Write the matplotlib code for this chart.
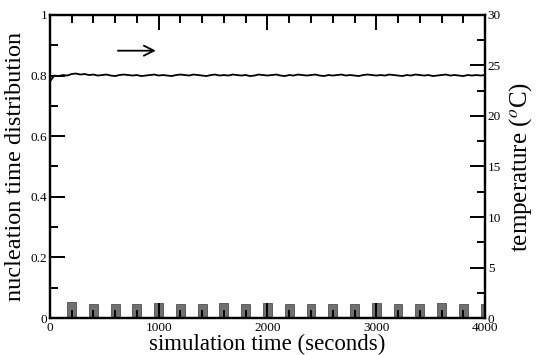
import numpy as np
import matplotlib
matplotlib.use('Agg')
import matplotlib.pyplot as plt
from matplotlib.ticker import MultipleLocator

plt.rcParams['font.family'] = 'Liberation Serif'
plt.rcParams['mathtext.fontset'] = 'stix'

# nucleation time histogram (left axis)
bin_centers = [200, 400, 600, 800, 1000, 1200, 1400, 1600, 1800, 2000,
               2200, 2400, 2600, 2800, 3000, 3200, 3400, 3600, 3800, 4000]
bin_heights = [0.052, 0.048, 0.048, 0.048, 0.049, 0.048, 0.048, 0.050, 0.048, 0.051,
               0.047, 0.048, 0.048, 0.048, 0.049, 0.048, 0.048, 0.050, 0.048, 0.048]

# temperature trace (right axis), sampled every 40 s
sample_times = np.arange(0, 4001, 40)
temperature = [23.4, 24.0, 23.95, 24.05, 24.0, 24.15, 24.2, 24.1, 24.15, 24.05,
               24.1, 24.0, 24.05, 24.1, 24.0, 23.95, 24.05, 24.1, 24.05, 24.0,
               24.05, 23.95, 24.0, 24.05, 24.1, 24.0, 24.05, 24.0, 23.95, 24.05,
               24.1, 24.05, 24.0, 24.1, 24.05, 24.0, 23.95, 24.05, 24.1, 24.0,
               24.05, 24.0, 24.1, 24.05, 24.0, 24.05, 23.95, 24.0, 24.1, 24.05,
               24.0, 24.05, 24.1, 24.0, 23.95, 24.05, 24.0, 24.1, 24.05, 24.0,
               24.05, 24.1, 24.0, 23.95, 24.05, 24.0, 24.05, 24.1, 24.0, 24.05,
               24.0, 23.95, 24.05, 24.1, 24.05, 24.0, 24.05, 24.0, 24.1, 24.05,
               24.0, 23.95, 24.05, 24.0, 24.1, 24.05, 24.0, 24.05, 23.95, 24.0,
               24.05, 24.1, 24.0, 24.05, 24.0, 23.95, 24.05, 24.0, 24.05, 24.0,
               24.05]

fig = plt.figure(figsize=(5.36, 3.55), dpi=100)
ax = fig.add_axes([0.093, 0.104, 0.812, 0.854])
ax2 = ax.twinx()

ax.bar(bin_centers, bin_heights, width=82, color='#707070', edgecolor='#505050',
       linewidth=0.6, zorder=1)
ax2.plot(sample_times, temperature, color='black', lw=1.3)

ax.annotate('', xy=(1000, 0.882), xytext=(600, 0.882),
            arrowprops=dict(arrowstyle='->', lw=1.3, color='black',
                            mutation_scale=18))

ax.set_xlim(0, 4000)
ax.set_ylim(0, 1)
ax2.set_ylim(0, 30)

ax.xaxis.set_major_locator(MultipleLocator(1000))
ax.xaxis.set_minor_locator(MultipleLocator(200))
ax.yaxis.set_major_locator(MultipleLocator(0.2))
ax.yaxis.set_minor_locator(MultipleLocator(0.1))
ax2.yaxis.set_major_locator(MultipleLocator(5))
ax2.yaxis.set_minor_locator(MultipleLocator(2.5))

ax.set_yticks([0, 0.2, 0.4, 0.6, 0.8, 1])
ax.set_yticklabels(['0', '0.2', '0.4', '0.6', '0.8', '1'])

for a in (ax, ax2):
    for s in a.spines.values():
        s.set_linewidth(1.6)
ax.tick_params(axis='x', which='both', direction='in', top=True, labelsize=9.5, pad=3)
ax.tick_params(axis='y', which='both', direction='in', right=False, labelsize=9.5, pad=2)
ax.tick_params(which='major', length=11, width=1.4)
ax.tick_params(which='minor', length=6, width=1.4)
ax2.tick_params(which='both', direction='in', labelsize=9.5, pad=2, width=1.4)
ax2.tick_params(which='major', length=11)
ax2.tick_params(which='minor', length=6)

ax.set_xlabel('simulation time (seconds)', fontsize=16.5, labelpad=0)
ax.set_ylabel('nucleation time distribution', fontsize=17.5, labelpad=3)
ax2.set_ylabel('temperature ($^{o}$C)', fontsize=18, labelpad=4)

fig.savefig('out.png', dpi=100)
